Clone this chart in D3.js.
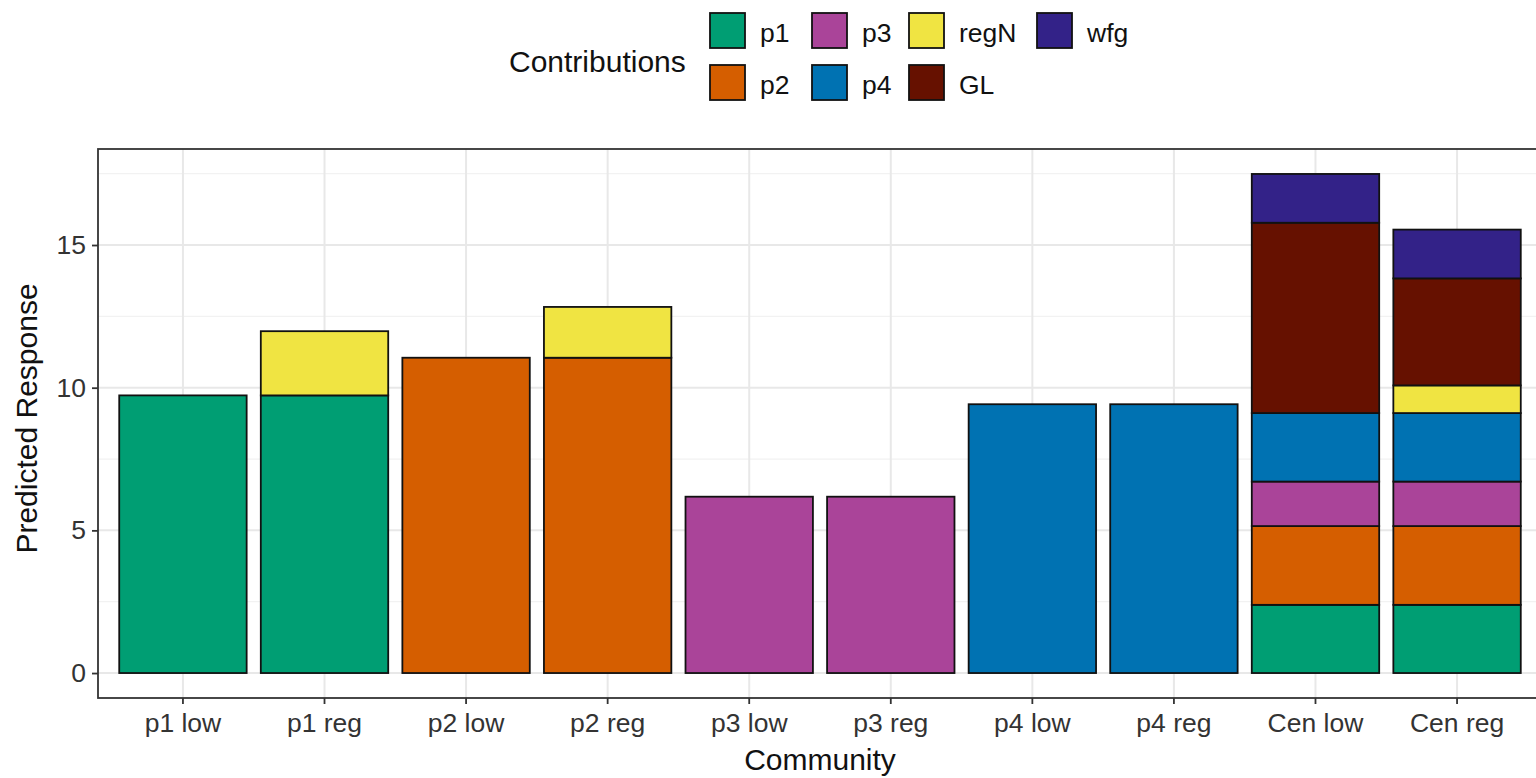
<!DOCTYPE html>
<html>
<head>
<meta charset="utf-8">
<script src="https://cdn.jsdelivr.net/npm/d3@7"></script>
<style>
  html, body { margin: 0; padding: 0; background: #fff; }
  svg { display: block; font-family: "Liberation Sans", Arial, sans-serif; }
</style>
</head>
<body>
<svg id="chart" width="1536" height="778"></svg>
<script>
// Communities along the x axis
const communities = ["p1 low", "p1 reg", "p2 low", "p2 reg", "p3 low", "p3 reg", "p4 low", "p4 reg", "Cen low", "Cen reg"];

// Contribution components, stacked bottom to top
const components = ["p1", "p2", "p3", "p4", "regN", "GL", "wfg"];
const componentColors = ["#009E73", "#D55E00", "#AA4499", "#0072B2", "#F0E442", "#661100", "#332288"];

// Contribution of each component to each community's predicted response
const p1Values   = [9.73, 9.73, 0, 0, 0, 0, 0, 0, 2.39, 2.39];
const p2Values   = [0, 0, 11.05, 11.05, 0, 0, 0, 0, 2.76, 2.76];
const p3Values   = [0, 0, 0, 0, 6.18, 6.18, 0, 0, 1.56, 1.56];
const p4Values   = [0, 0, 0, 0, 0, 0, 9.42, 9.42, 2.40, 2.40];
const regNValues = [0, 2.25, 0, 1.78, 0, 0, 0, 0, 0, 0.97];
const glValues   = [0, 0, 0, 0, 0, 0, 0, 0, 6.67, 3.75];
const wfgValues  = [0, 0, 0, 0, 0, 0, 0, 0, 1.71, 1.71];

const yTicks = [0, 5, 10, 15];
const yMinorTicks = [2.5, 7.5, 12.5, 17.5];

const seriesValues = { p1: p1Values, p2: p2Values, p3: p3Values, p4: p4Values, regN: regNValues, GL: glValues, wfg: wfgValues };
const rows = communities.map((c, i) => {
  const r = { community: c };
  components.forEach(k => { r[k] = seriesValues[k][i]; });
  return r;
});

const svg = d3.select("#chart");
const panel = { left: 98, right: 1542, top: 149, bottom: 698 };

const x = d3.scaleBand().domain(communities)
  .range([panel.left, panel.right]).paddingInner(0.1).paddingOuter(0.15);
const totals = rows.map(r => d3.sum(components, k => r[k]));
const yMax = d3.max(totals);
const y = d3.scaleLinear().domain([-0.05 * yMax, yMax * 1.05]).range([panel.bottom, panel.top]);
const color = d3.scaleOrdinal().domain(components).range(componentColors);

// Panel background and grid
svg.append("rect").attr("x", panel.left).attr("y", panel.top)
  .attr("width", panel.right - panel.left).attr("height", panel.bottom - panel.top)
  .attr("fill", "#fff");

const grid = svg.append("g");
grid.selectAll(".minor").data(yMinorTicks).join("line")
  .attr("x1", panel.left).attr("x2", panel.right)
  .attr("y1", d => y(d)).attr("y2", d => y(d))
  .attr("stroke", "#f2f2f2").attr("stroke-width", 1.2);
grid.selectAll(".majorY").data(yTicks).join("line")
  .attr("x1", panel.left).attr("x2", panel.right)
  .attr("y1", d => y(d)).attr("y2", d => y(d))
  .attr("stroke", "#e8e8e8").attr("stroke-width", 2);
grid.selectAll(".majorX").data(communities).join("line")
  .attr("x1", d => x(d) + x.bandwidth() / 2).attr("x2", d => x(d) + x.bandwidth() / 2)
  .attr("y1", panel.top).attr("y2", panel.bottom)
  .attr("stroke", "#e8e8e8").attr("stroke-width", 2);

// Stacked bars
const stacked = d3.stack().keys(components)(rows);
svg.append("g").selectAll("g").data(stacked).join("g")
  .attr("fill", d => color(d.key))
  .selectAll("rect").data(d => d.filter(s => s[1] - s[0] > 0)).join("rect")
  .attr("x", d => x(d.data.community))
  .attr("width", x.bandwidth())
  .attr("y", d => y(d[1]))
  .attr("height", d => y(d[0]) - y(d[1]))
  .attr("stroke", "#111").attr("stroke-width", 1.8);

// Panel border
svg.append("rect").attr("x", panel.left).attr("y", panel.top)
  .attr("width", panel.right - panel.left).attr("height", panel.bottom - panel.top)
  .attr("fill", "none").attr("stroke", "#333").attr("stroke-width", 1.8);

// Axes
const yAxis = svg.append("g").attr("transform", `translate(${panel.left},0)`)
  .call(d3.axisLeft(y).tickValues(yTicks).tickSize(6).tickPadding(6));
const xAxis = svg.append("g").attr("transform", `translate(0,${panel.bottom})`)
  .call(d3.axisBottom(x).tickSize(6).tickPadding(9));
[yAxis, xAxis].forEach(a => {
  a.select(".domain").remove();
  a.selectAll(".tick line").attr("stroke", "#333").attr("stroke-width", 1.8);
  a.selectAll(".tick text").attr("fill", "#333").style("font-size", "26.5px")
    .style("font-family", "'Liberation Sans', Arial, sans-serif");
});
xAxis.selectAll(".tick text").attr("dy", "0.72em");

// Axis titles
svg.append("text").attr("x", (panel.left + panel.right) / 2).attr("y", 770)
  .attr("text-anchor", "middle").attr("fill", "#111").style("font-size", "30px")
  .text("Community");
svg.append("text")
  .attr("transform", `translate(37,${(panel.top + panel.bottom) / 2 - 5}) rotate(-90)`)
  .attr("text-anchor", "middle").attr("fill", "#111").style("font-size", "30px")
  .text("Predicted Response");

// Legend: two rows, filled column by column
const legend = svg.append("g");
legend.append("text").attr("x", 509).attr("y", 72).attr("fill", "#111")
  .style("font-size", "30px").text("Contributions");
const colX = [710, 812, 909, 1037];
const rowY = [13, 65];
const key = legend.selectAll("g.key").data(components).join("g")
  .attr("transform", (d, i) => `translate(${colX[Math.floor(i / 2)]},${rowY[i % 2]})`);
key.append("rect").attr("width", 35).attr("height", 35)
  .attr("fill", d => color(d)).attr("stroke", "#111").attr("stroke-width", 1.8);
key.append("text").attr("x", 50).attr("y", 29).attr("fill", "#111")
  .style("font-size", "26.5px").text(d => d);
</script>
</body>
</html>
